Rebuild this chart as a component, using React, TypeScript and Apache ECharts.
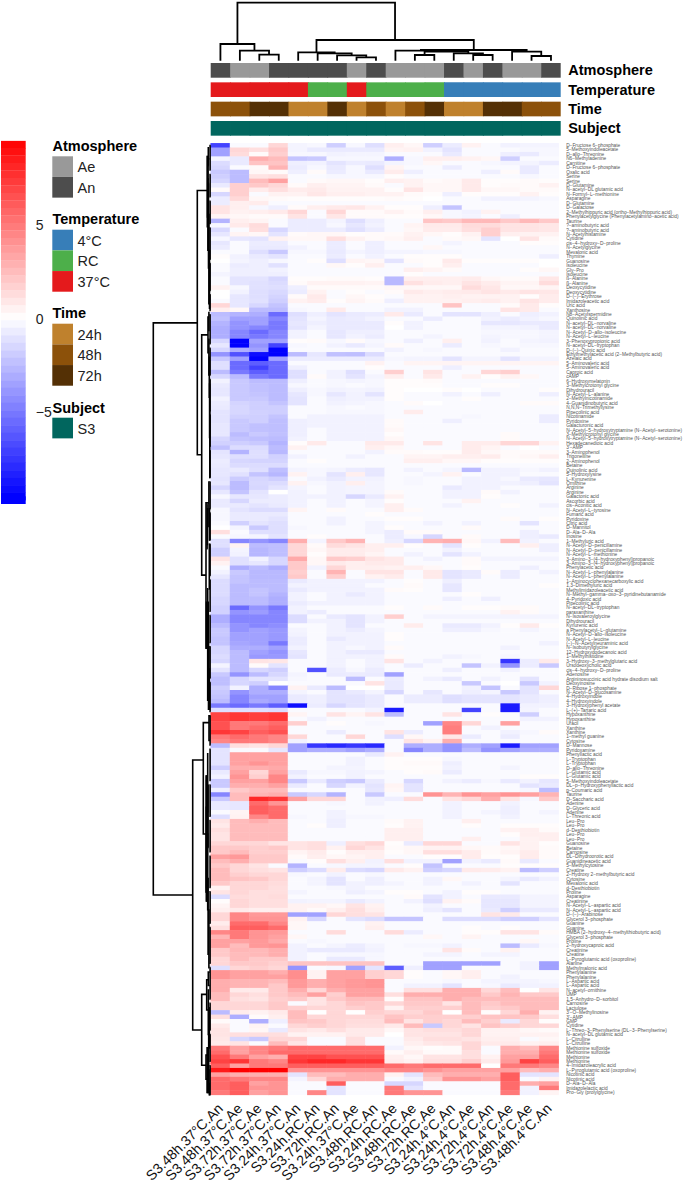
import React, { useEffect, useRef } from "react";
import * as echarts from "echarts";

const FONT = "Liberation Sans";

const sampleLabels = ["S3.48h.37°C.An","S3.48h.37°C.Ae","S3.72h.37°C.Ae","S3.72h.37°C.An","S3.24h.37°C.An","S3.24h.RC.An","S3.72h.RC.An","S3.24h.37°C.Ae","S3.48h.RC.An","S3.24h.RC.Ae","S3.48h.RC.Ae","S3.72h.RC.Ae","S3.24h.4°C.An","S3.24h.4°C.Ae","S3.72h.4°C.An","S3.72h.4°C.Ae","S3.48h.4°C.Ae","S3.48h.4°C.An"];
const annotationNames = ["Atmosphere","Temperature","Time","Subject"];
const atmosphereValues = ["An","Ae","Ae","An","An","An","An","Ae","An","Ae","Ae","Ae","An","Ae","An","Ae","Ae","An"];
const temperatureValues = ["37°C","37°C","37°C","37°C","37°C","RC","RC","37°C","RC","RC","RC","RC","4°C","4°C","4°C","4°C","4°C","4°C"];
const timeValues = ["48h","48h","72h","72h","24h","24h","72h","24h","48h","24h","48h","72h","24h","24h","72h","72h","48h","48h"];
const subjectValues = ["S3","S3","S3","S3","S3","S3","S3","S3","S3","S3","S3","S3","S3","S3","S3","S3","S3","S3"];
const annotationColors: Record<string,string> = { Ae:"#999999", An:"#4d4d4d", "4°C":"#377eb8", RC:"#4daf4a", "37°C":"#e41a1c", "24h":"#bf812d", "48h":"#8c510a", "72h":"#543005", S3:"#01665e" };
const legendGroups: [string, string[]][] = [["Atmosphere",["Ae","An"]],["Temperature",["4°C","RC","37°C"]],["Time",["24h","48h","72h"]],["Subject",["S3"]]];

const rowLabels = [
"D−Fructose 6−phosphate","5−Methoxyindoleacetate","D−allo−Threonine","N6−Methyladenine","Carnitine","D−Fructose 6−phosphate","Oxalic acid","Serine","Serine","D−Glutamine","N−acetyl−DL glutamic acid","N−Formyl−L−methionine","Asparagine","D−Glutamine","D−Galactose","2−Methylhippuric acid (ortho−Methylhippuric acid)","Phenylacetylglycine (Phenylacetylamino−acetic acid)","Taurine","?−aminobutyric acid","?−aminobutyric acid","N−Acetylhistamine","Cytidine","cis−4−hydroxy−D−proline","N−Acetylglycine","Mevalonic acid","Thymine","Guanosine","Isoleucine","Gly−Pro","Isoleucine","ß−Alanine","ß−Alanine","Deoxycytidine","Deoxycytidine","D−(−)−Erythrose","Imidazoleacetic acid","Uric acid","Xanthosine",
"N8−Acetylspermidine","Quinolinic acid","N−acetyl−DL−norvaline","N−acetyl−DL−norvaline","N−Acetyl−D−allo−isoleucine","N−Acetyl−L−leucine","3−Phenoxypropionic acid","N−acetyl−DL−tryptophan","D−(−)−Quinic acid","Ethylmethylacetic acid (2−Methylbutyric acid)","Azelaic acid","5−Aminovaleric acid","5−Aminovaleric acid","Caproic acid","cAMP","6−Hydroxymelatonin","3−Methylcrotonyl glycine","Dihydrouracil","N−Acetyl−L−alanine","2−Methylnicotinamide","4−Guanidinobutyric acid","N,N,N−Trimethyllysine","Pipecolinic acid","Nicotinamide","Pyridoxine","Galacturonic acid","N−Acetyl−5−hydroxytryptamine (N−Acetyl−serotonine)","3−Methylcrotonyl glycine","N−Acetyl−5−hydroxytryptamine (N−Acetyl−serotonine)","Hexadecanedioic acid","3'−AMP","3−Aminophenol","Trigonelline","2−Aminophenol","Betaine","Quinolinic acid","5−Hydroxylysine","L−Kynurenine",
"Ornithine","Arginine","Arginine","Galactonic acid","Ascorbic acid","cis−Aconitic acid","N−Acetyl−L−tyrosine","Fumaric acid","Pyridoxine","Citric acid","D−Mannitol","D−Ala−D−Ala","Inosine","1−Methyluric acid","N−Acetyl−D−penicillamine","N−Acetyl−D−penicillamine","N−Acetyl−L−methionine","3−Amino−3−(4−hydroxyphenyl)propanoic","3−Amino−3−(4−hydroxyphenyl)propanoic","Phenylacetic acid","N−Acetyl−L−phenylalanine","N−Acetyl−L−phenylalanine","1−Aminocyclohexanecarboxylic acid","1,3−Dimethyluric acid","Methylimidazoleacetic acid","N−Methyl−gamma−oxo−3−pyridinebutanamide","4−Pyridoxic acid","Pipecolinic acid","N−acetyl−DL−tryptophan","paraxanthine","N−Isovaleroylglycine","Dihydrouracil","Kynurenic acid","a Phenylacetyl−L−glutamine","N−Acetyl−D−allo−isoleucine","N−Acetyl−L−leucine","(−)−N−Acetylneuraminic acid","N−Isobutyrylglycine","12−Hydroxydodecanoic acid","1−Methylhistidine","3−Hydroxy−3−methylglutaric acid","Ursodeoxycholic acid","cis−4−hydroxy−D−proline","Adenosine","Argininosuccinic acid hydrate disodium salt","Deoxyinosine","D−Ribose 1−phosphate","N−Acetyl−D−glucosamine","4−Hydroxyindole","4−Hydroxyindole","3−Hydroxyphenyl acetate","L−(+)−Tartaric acid",
"Hypoxanthine","Hypoxanthine","Uracil","Xanthine","Xanthine","1−methyl guanine","Cytosine","D−Mannose","Pyridoxamine","Phenyllactic acid","L−Tryptophan","L−Tryptophan","D−allo−Threonine","L−Glutamic acid","L−Glutamic acid","5−Methoxyindoleacetate","DL−p−Hydroxyphenyllactic acid","p−Coumaric acid","Taurine","D−Saccharic acid","Adenine","D−Glyceric acid","Adenine","L−Threonic acid","Leu−Pro","Leu−Pro","d−Desthiobiotin","Leu−Pro","Leu−Pro","Guanosine","Betaine","Carnosine","DL−Dihydroorotic acid","Guanidineacetic acid","5−Methylcytosine","Creatine","2−Hydroxy 2−methylbutyric acid","Cytosine","Mevalonic acid","d−Desthiobiotin","Proline","Asparagine","Creatinine","N−Acetyl−L−aspartic acid","N−Acetyl−L−aspartic acid","D−(−)−Arabinose","Glycerol 3−phosphate","Guanine","Guanine","HMBA (2−hydroxy−4−methylthiobutyric acid)","Glycerol 3−phosphate","Proline","2−hydroxycaproic acid","Creatinine","Creatine","L−Pyroglutamic acid (oxoproline)","Alanine","Methylmalonic acid",
"Phenylalanine","Phenylalanine","L−Aspartic acid","L−Aspartic acid","N−acetyl−ornithine","UMP","1,5−Anhydro−D−sorbitol","Carnosine","Lactulose","3'−O−Methylinosine","3'−AMP","GMP","Cytidine","L−Threo−3−Phenylserine (DL−3−Phenylserine)","N−acetyl−DL glutamic acid","L−Citrulline","L−Citrulline","Methionine sulfoxide","Methionine sulfoxide","Methionine","Methionine","4−Imidazoleacrylic acid","L−Pyroglutamic acid (oxoproline)","Nicotinic acid","Nicotinic acid","D−Ala−D−Ala","Imidazolelactic acid","Pro−Gly (prolylglycine)"];

const valuesPale = [
[-7,-0.2,-0.2,1.5,-0.4,-0.3,-1.8,-0.3,-1.2,0.6,0.3,-1.8,-0.7,0.5,-0.2,-0.5,-0.4,-0.4],
[-3.5,1.5,1.2,2,-0.4,-0.8,-0.8,-0.8,-0.8,0.4,0.5,-0.5,-1,-0.2,-0.2,-0.2,-0.3,-0.3],
[-3.5,1.3,0.2,1.8,-0.3,-0.3,-0.5,-0.4,-0.4,-0.2,-0.2,-0.2,-0.8,-0.2,-0.2,-0.6,-0.8,-0.3],
[-0.4,-0.8,3,2.5,-2.2,-2,-0.3,-0.3,-0.3,-3,-0.3,0.6,0.6,0.5,0.3,-1.8,-0.2,-0.2],
[-1.3,-0.8,2.2,2.2,-0.6,-0.5,-1,-0.7,-0.8,-0.4,-0.3,0.3,-0.2,-0.2,-0.3,-0.4,-0.4,-0.7],
[-1.5,-0.2,0.2,2.8,-0.7,-0.3,-0.8,-0.3,-1.2,0.4,-0.2,-0.2,-0.7,-0.2,-0.2,-0.2,-0.8,-0.2],
[-2,-2.5,0.3,0.2,-0.6,0.2,-0.7,-0.3,-0.8,0.7,-0.6,-0.2,-0.2,-0.2,-0.6,0.2,-0.8,-0.2],
[-1.8,-2.5,1,1.2,-0.2,-0.2,-0.3,-0.3,-0.3,0.1,-0.2,-0.2,-0.2,-0.2,-0.2,-0.2,-0.3,-0.2],
[-1.5,-2.5,2.5,3.5,-0.2,0.2,0.3,0.3,0.1,0.6,0.5,0.2,0.3,0.8,0.1,0.1,0.2,0.1],
[-0.8,1.8,2,1.5,0.2,0.6,0.4,0.4,0.2,-0.2,0.5,0.3,0.3,0.8,0.1,0.2,0.2,0.5],
[0.2,1.8,0.7,1.2,0.7,0.8,0.5,0.5,0.5,0.1,1,0.3,0.3,0.8,0.3,0.3,0.2,0.2],
[-1.5,1.8,-0.2,0.5,0.5,0.9,0.6,0.6,0.5,0.5,0.2,0.1,-0.6,0.1,0.1,0.1,0.5,0.1],
[-0.7,1.4,0.3,0.2,0.1,0.1,0.1,0.1,0.1,0.2,0.1,0,-0.2,-0.2,-0.5,-0.5,-0.4,-0.3],
[-0.7,0.6,0.7,-0.2,-0.2,-0.2,-0.2,-0.2,-0.2,-0.2,-0.2,-0.2,-0.2,-0.2,-0.2,-0.2,-0.2,-0.2],
[1,0.6,-0.3,-0.6,0.2,0.6,0.8,0.9,0.5,0.1,0.1,-0.6,-2.2,-0.2,-0.2,-0.2,-0.2,-0.2],
[1,0.5,0.6,0.8,1.5,-0.2,1.5,0.2,0.2,0.5,0.2,0.6,-0.3,-0.5,0.5,-0.2,-0.2,-0.2],
[0.4,0.3,0.2,0.2,1,-0.2,0.9,0.2,0.2,0.1,0.1,0.3,-0.3,-0.4,-0.2,-0.6,-0.2,-0.2],
[-2.8,0.6,0.4,-0.2,-0.7,-0.7,-0.4,-1.2,-0.6,-0.2,-0.2,2.2,2,2.6,2.6,2,2.6,2],
[-0.3,0.8,1.3,-0.2,-0.7,-0.7,-0.3,-0.9,-0.5,-0.2,0.4,0.8,0.8,1.3,1.3,1,1,0.9],
[-1.4,-0.2,1.2,-1.5,-0.7,-0.7,-0.7,-1.1,-0.7,-0.2,0.3,0.7,0.7,1.2,1.8,1,1,0.9],
[-0.9,0.4,0.3,-1,0.2,0.3,0.3,0.1,0.2,0.2,0.5,0.3,0.1,0.5,1.8,0.6,0.5,0.5],
[-0.3,-0.9,-1,0.5,0.3,0.3,1.2,0.5,0.2,0.3,0.6,-0.2,0.2,0.3,-1,0,1,0.2],
[-0.9,-0.2,-0.7,-0.7,-0.2,-0.2,-0.7,-0.2,-0.6,-0.2,-0.2,-0.2,-0.4,-0.2,-0.2,-0.2,0.1,0.1],
[-0.7,-0.2,-0.8,-0.8,-0.5,-0.2,-0.7,-0.2,-0.6,-0.2,-0.2,0.3,-0.2,-0.2,-0.2,-0.2,-0.2,-0.2],
[-0.2,-0.2,-1.2,-2,-0.3,-0.3,-0.8,-0.4,-0.6,-0.4,-0.4,-0.3,-0.3,-0.2,-0.2,-0.2,-0.2,-0.2],
[0.1,-0.5,-0.8,-1,-0.2,-0.2,-0.7,-0.2,-0.5,-0.2,0.1,0.1,0.1,-0.2,-0.2,-0.2,-0.2,-0.6],
[0,-0.4,-0.6,-0.3,-0.2,0.1,-1.2,0.4,0.3,-1,0.2,0.1,0.8,0.1,0.1,0.1,0.1,0],
[-0.2,-0.7,-0.6,-1.1,-0.2,-0.2,0.3,0.1,0.6,-0.2,-0.2,0.1,0.6,-0.2,-0.2,-0.2,-0.2,0],
[-0.2,-0.6,-0.6,-0.5,-0.2,-0.2,-0.2,-0.2,-0.2,-0.2,0.6,0.4,0.2,-0.2,-0.2,-0.2,0.1,0.3],
[-0.4,-0.6,-0.6,-0.6,-0.2,-0.2,-0.2,-0.2,-0.2,-0.2,0.1,-0.2,-0.2,-0.2,-0.2,-0.2,-0.2,-0.2],
[-0.2,-1,-1,-1.5,0.1,0.1,0.2,0.2,0.1,-2.6,0.6,0.6,0.6,0.7,0.3,0.2,0.2,0.9],
[-0.2,-1,-1.1,-1.3,0.2,0.5,0.5,0.5,0.4,-2.6,1.1,0.7,0.6,1,0.7,0.4,0.4,1.3],
[0.5,-0.3,-1.1,-1.2,-0.6,0.2,0.2,0.2,0.2,0.3,0.3,0.3,0.3,1.3,0.9,0.3,0.3,0.4],
[0,-0.5,-1.2,-1.4,-0.7,0.5,-0.2,0.1,-0.2,0.2,0.8,0.6,0.7,0.8,1,0.8,1,0.9],
[0,-0.9,-1.2,-1.6,0.2,0.8,-0.2,0.3,0.1,-0.2,0.5,0.5,0.6,0.5,0.5,0.5,0.1,0.7],
[-0.2,-0.9,-1.1,-1.8,0.5,0.7,0.1,0.4,0.2,-0.6,0.5,0.5,0.5,0.6,0.7,0.5,1,0.7],
[1.5,-0.9,-1.5,-2.2,-0.2,-0.2,-0.2,-0.2,-0.2,-0.2,-0.2,-0.2,2.2,-0.2,-0.2,0.2,0.8,0.1],
[0.6,0.3,-2.5,-2.5,-0.3,-0.2,0.8,-0.2,-0.2,-0.5,-0.5,-0.2,-0.2,-0.2,-0.2,1,0.8,-0.2],
];

const valuesBlueTop = [
[-2.5,-2.8,-3,-5.5,-1.2,-0.6,-1,-0.8,-0.7,0.8,-0.8,-0.2,-1,-1,-0.6,-0.2,-0.6,-0.5],
[-2.3,-3.5,-3.5,-4.5,-1,-0.4,-0.8,-0.7,-0.5,-0.2,-0.2,-0.7,-0.2,-0.2,-0.5,-0.7,-0.5,-0.3],
[-2.8,-4,-3.5,-5,-0.9,-0.6,-0.8,-0.8,-0.8,0.1,-0.5,-0.2,-0.2,-0.2,-0.9,-0.9,-0.8,-0.8],
[-3,-4,-4.5,-5,-1,-0.4,-0.8,-0.8,-0.8,0,-0.5,-0.2,-0.2,-0.2,-0.4,-0.4,-0.5,-0.8],
[-3,-4.5,-5.5,-4.5,-0.5,-0.2,-0.9,-0.6,-0.6,-0.2,-0.2,-0.2,-0.2,-0.2,-0.3,-0.3,-0.3,-0.4],
[-3,-4.5,-5,-4.5,-0.5,-0.2,-0.9,-0.5,-0.7,-0.2,-0.2,-0.4,-0.2,-0.2,-0.4,-0.3,-0.3,-0.4],
[-1.5,-9.5,-3.5,-3.5,0.1,0.2,-0.3,0.2,-0.3,-0.2,-0.6,-0.2,0.6,-0.2,-0.5,-0.2,-0.4,-0.5],
[-0.9,-9.5,-4,-7,-0.3,-0.2,-0.5,-0.8,-0.4,0.2,-0.2,-0.2,-0.7,-0.2,-0.3,-0.2,-0.3,-0.3],
[-1.5,-3,-3.5,-9.5,-0.2,-0.2,-0.2,-0.2,-0.2,-0.5,-0.2,-0.3,-0.2,-0.2,-0.2,-0.5,-0.2,-0.2],
[-4,-6.5,-9,-9.5,-2.5,-0.9,-2.3,-2.4,-1.3,-0.2,-0.2,-0.2,-0.2,-0.2,-0.2,-0.2,-0.2,-0.2],
[-2,-3.5,-9.5,-3.5,-0.7,-0.7,-0.7,-0.7,-0.7,-0.3,-0.4,-0.4,-1,-0.4,-0.4,-1,-0.4,-0.4],
[-1.2,-5.5,-6,-5.5,-0.2,-0.2,-0.2,-0.2,0.5,-0.2,0.4,0.4,0.4,0.4,0.4,0.4,0.4,0.4],
[-1.2,-5.5,-7,-5.5,-0.6,-0.2,-0.2,-0.2,0.1,-0.2,-0.2,-0.2,-0.6,-0.2,-0.2,-0.2,-0.2,-0.2],
[-2.5,-5,-6,-5.5,-1.2,-0.2,-0.5,-1.2,-0.2,1.8,-0.2,1,-0.2,-0.2,1.5,1.8,-0.2,-0.2],
[-1.5,-2.5,-5,-5.5,-1.2,0.2,-0.5,-1,-0.4,0.6,-0.2,0.8,-0.2,0.5,0.1,0.5,0.3,-0.2],
[-0.5,-2,-2.5,-2.5,-0.6,-0.2,-0.3,-0.4,-0.3,0.1,0.1,0.2,-0.2,-0.2,-0.2,-0.2,-0.2,-0.2],
[-0.8,-2,-2.3,-2.5,-0.3,-0.2,-0.3,-0.2,-0.3,0.1,0.1,0.1,-0.2,-0.2,0.1,0.1,-0.2,-0.2],
[-0.9,-2,-2.3,-2.5,-0.6,-0.3,-0.5,-0.4,-0.5,0.1,0,0,0.1,0,-0.2,-0.2,-0.2,0.1],
[-0.9,-2,-2.2,-2.5,-0.9,-0.3,-0.9,-0.5,-1,0.1,-0.2,-0.2,-0.5,-0.2,-0.6,-0.2,-0.2,-0.6],
[-0.5,-2,-2,-2.5,-1,-0.2,-0.6,-0.5,-0.5,0.1,-0.2,-0.2,-0.2,0.1,-0.2,-0.2,-0.2,-0.2],
[-0.7,-1.6,-1.8,-2.2,-1,-0.2,-0.5,-0.4,-0.3,-0.2,0.2,0,-0.2,-0.2,-0.2,-0.2,0.2,0.2],
[-0.8,-1.5,-1.8,-1.8,-0.2,-0.2,-0.3,-0.2,-0.3,-0.2,-0.2,-0.2,-0.2,-0.2,-0.2,-0.2,-0.2,-0.2],
[-1,-1.5,-1.7,-1.8,-0.2,-0.2,-0.3,-0.3,-0.3,-0.2,0.7,-0.2,-0.2,-0.2,-0.2,-0.2,-0.2,-0.2],
[-1,-1.7,-1.8,-2.2,-0.2,-0.5,-0.5,-0.5,-0.5,-0.2,-0.2,-0.2,-0.2,-0.3,-0.2,-0.2,-0.2,-0.7],
[-1,-2,-1.8,-2.4,-0.6,-0.5,-0.5,-0.5,-0.5,0.2,-0.2,-0.2,-0.6,-0.2,-0.2,-0.2,-0.2,-0.7],
[-0.9,-2,-2.3,-2.4,-0.6,-0.5,-0.5,-0.5,-0.5,0.2,-0.2,-0.2,-0.2,-0.2,-0.2,-0.2,-0.2,-0.2],
[-0.9,-2,-2.3,-2.4,-0.6,-0.2,-0.5,-0.5,-0.5,0.3,-0.2,-0.2,-0.2,-0.2,-0.2,-0.2,-0.2,-0.2],
[-0.9,-2.5,-2,-2.3,-0.6,-0.2,-0.5,-0.5,-0.5,0.1,-0.2,-0.2,-0.2,-0.2,-0.2,0.2,-0.2,-0.2],
[-1.5,-2.2,-2.4,-2.5,-0.5,-0.2,-0.5,-0.5,-0.5,0.3,-0.2,-0.2,-0.2,-0.2,-0.2,0.2,-0.2,-0.2],
[-1.7,-1.8,-2,-2.8,0.1,0.8,-0.2,-0.2,0.8,0.8,-0.2,1,-0.2,0.7,0.7,1.5,1.5,0.5],
[-2.3,-1.3,-1.3,-2.5,0.5,-0.2,-0.2,-0.2,0.6,0.3,-0.2,-0.2,-0.2,0.7,0.4,-0.2,0,-0.2],
[-1,-2.8,-1.2,-2.6,-0.2,-0.2,-0.2,-0.2,-0.5,0.2,0.2,0.1,0.1,0.7,0.3,0.2,0.2,0.2],
[-0.9,-1.2,-1.2,-1.7,-0.5,-0.2,-0.2,-0.5,-0.2,-0.2,0.4,0.4,0.6,0.6,0.7,0.2,0.3,0.6],
[-0.7,-1.5,-1.6,-1.6,-0.2,0.1,-0.2,-0.2,-0.2,-0.2,0.6,0.6,0.3,0.3,0.1,0.1,0.1,0.1],
[-0.8,-1.3,-1.3,-1.3,-0.2,-0.2,-0.2,-0.2,-0.2,-0.2,-0.2,-0.2,-0.2,-0.2,-0.2,-0.2,-0.2,-0.2],
[-0.9,-0.8,-1.2,-2.4,-0.4,-0.3,-0.4,-0.7,-0.9,-0.2,-0.5,-0.2,-0.4,-2.6,-0.5,-0.5,-0.3,-0.5],
[-0.9,-1.1,-2.2,-2.7,0.5,-0.3,-1,0.6,-0.9,-0.2,-0.2,-0.4,0.5,-0.2,-0.5,-0.5,-0.2,-0.2],
[-1,-1.9,-1.5,-1.8,-0.2,-0.5,-0.8,-0.5,-0.5,-0.2,-0.3,-0.2,-0.2,-0.5,-0.5,-0.3,-0.8,-0.9],
];

const valuesBlueLower = [
[-0.9,-2.5,-1.4,-1.3,0.5,-0.3,-0.5,0.6,-0.4,-0.2,-0.3,-0.2,-0.2,-0.5,-0.5,-0.5,-0.6,-1],
[-1.5,-2.5,-1.5,-1,-0.4,-0.2,-0.5,-0.4,-0.4,-0.2,-0.2,-0.2,-0.8,-0.5,-0.5,-0.2,-0.2,-0.2],
[-0.9,-2.2,-1,0,-0.5,-0.2,-0.5,-0.4,-0.4,0.2,-0.2,-0.2,-0.5,-0.5,0.2,-0.5,-0.2,-0.2],
[-0.3,-0.9,-0.9,-0.7,-0.5,-0.5,-0.5,-1.5,-0.8,0.5,-0.2,-0.2,-0.5,-0.5,0.1,-0.2,-0.2,-0.2],
[-0.8,-1.5,-0.7,-0.7,-0.5,-0.2,-0.5,-0.2,-0.4,0.1,-0.2,-0.2,-0.2,0.5,-0.2,-0.2,-0.2,-0.2],
[-0.8,-0.8,-1,-0.8,-0.5,-0.2,-0.5,-0.2,-0.4,0.6,-0.2,-0.2,-0.5,-0.2,-0.2,0.1,-0.2,-0.5],
[-0.3,-1,-1.3,-1.3,0.4,-0.2,0.2,-0.2,-0.2,0.6,0.2,-0.2,-0.2,-0.2,-0.2,-0.2,-0.2,-0.2],
[-0.3,-0.8,-0.8,-0.8,-0.2,-0.2,-0.2,-0.2,0.1,-0.2,-0.2,-0.2,-0.2,-0.2,-0.2,-0.2,-0.2,-0.2],
[-0.3,-0.8,-0.8,-1,-0.2,-0.2,-0.5,-0.2,-0.2,0.1,0.1,-0.2,-0.2,-0.2,-0.2,0.2,-0.2,0.1],
[-0.2,-1.7,-1,-1.2,-0.2,-0.2,-0.5,-0.2,-0.4,-0.2,-0.2,-0.5,-0.2,-0.5,-0.2,-0.2,-1,-0.2],
[0,-0.4,-2,-1.2,-0.3,-0.2,-0.2,-0.2,-0.4,0.1,-0.2,-0.2,-0.2,0.2,-0.2,-0.2,-0.2,-0.2],
[1.2,-0.2,-1.2,-1.2,-0.2,-0.2,-0.2,-0.2,-0.4,-0.7,0.2,0.2,-0.2,-0.2,-0.2,-0.2,-0.6,-0.2],
[-0.2,-0.3,-0.4,-1,-0.2,0.1,-0.2,-0.2,-0.2,-0.7,-0.3,-1.5,-0.2,0.2,-0.2,-0.2,-0.6,-0.8],
[-1.2,-4.5,-4,-4.5,3,-0.4,2,2.8,-0.2,-0.6,-1.5,2.8,3,0.3,-0.5,2.5,-0.5,-0.2],
[-1.2,0.5,-2.5,-2.4,1.5,0.2,1.3,1,0.6,0.6,0.1,-0.2,-1,0.1,-0.2,-0.2,0.6,-0.6],
[-1.8,-0.4,-2.7,-2.4,1.5,0.3,0.7,0.7,0.6,-0.2,-0.2,-0.2,-0.5,-0.2,-0.2,-0.2,-0.2,-0.6],
[-1.8,-0.5,-2.7,-2.4,1.5,0.1,0.7,0.7,0.4,-0.2,-0.5,-0.2,-1,-0.5,-0.2,-0.2,-0.2,-0.2],
[1,-1.1,-0.5,-1.5,3.2,0.3,2,1.8,1,0.8,-0.2,-0.5,-0.2,0.2,-0.4,-0.4,-0.4,-0.4],
[0.5,-1.1,-0.9,-1.5,2,0.3,0.8,0.6,0.8,0.8,-0.2,-0.2,-0.2,0.2,-0.2,-0.2,-0.2,-0.2],
[-0.2,-3,-2.5,-3,2,-0.5,1.5,0.6,0.6,0.5,0.6,0.3,-0.2,0.1,-0.2,-0.2,-0.6,-0.2],
[-0.5,-2,-2.6,-2.6,1.8,-0.2,2.8,-0.2,1,1,-0.2,0.8,-1,-0.8,0.2,-0.7,-0.2,-0.5],
[-0.9,-2.2,-2.6,-2.6,2,-0.2,1.8,-0.2,0.5,0.7,-0.2,0.8,-1,-0.8,-0.2,-0.7,-0.2,-0.2],
[-1.3,-2.2,-2.5,-2.5,-0.8,-0.5,-0.5,-0.5,-0.5,-0.2,0.1,-0.2,-0.6,-0.2,-0.2,-0.2,-0.2,-0.2],
[-1.3,-2.5,-2.5,-2.5,-0.5,-0.5,-0.5,-0.5,-0.2,-0.2,0.2,-0.2,-0.9,-0.2,-0.2,-0.2,-0.2,0.1],
[-1.3,-2.5,-2.2,-2.5,-0.8,-0.5,-0.5,-0.5,-0.5,0.2,0.1,-0.2,-0.9,-0.2,-0.2,-0.2,-0.2,-0.2],
[-1.3,-2.5,-2.2,-2.8,-0.5,-0.2,-0.5,-0.8,-0.5,-0.2,-0.2,-0.2,-0.2,0.1,-0.2,-0.2,-0.2,-0.2],
[-1.5,-2.5,-2.5,-3,-0.5,-0.2,-0.5,-0.5,-0.5,-0.2,-0.2,-0.2,-0.6,-0.2,-0.6,-0.2,-0.2,-0.2],
[-1.5,-2.5,-2.5,-3,-0.7,-0.5,-0.5,-0.5,-0.5,-0.2,-0.2,-0.2,-0.2,-0.2,-0.2,-0.2,-0.2,-0.2],
[-1.7,-5.5,-4,-5,-0.5,-0.2,-0.2,-0.2,-0.2,0.1,-0.2,0.2,-0.2,0.1,0.1,0.2,0.2,-0.2],
[-1.7,-4,-3.7,-4.5,-0.5,-0.7,-0.2,-0.2,-0.2,-0.2,-0.2,-0.2,-0.2,-0.2,-0.2,0.5,0.2,-0.2],
[-3,-4.5,-4.5,-4.5,-1.3,-0.2,-0.8,-1,-0.5,1.8,-0.2,-0.4,-0.4,-0.4,-0.4,-0.4,-0.4,-0.4],
[-3,-4.5,-4.5,-4.5,-1.3,-0.5,-0.5,-1,-0.5,-0.2,-0.2,-0.2,-0.2,-0.2,-0.2,-0.2,-0.2,-0.2],
[-2.5,-4,-4.5,-4.2,-0.2,-0.2,-0.5,-1,-0.2,-0.2,0.7,-0.2,-0.8,-0.8,-0.5,0.1,0.8,0.1],
[-2,-4,-3.5,-3.8,-0.4,-0.2,-0.5,-0.7,-0.4,-0.2,-0.2,-0.2,-0.6,-0.6,-0.3,-0.2,-0.4,-0.2],
[-2,-3.5,-3.5,-3.8,-0.5,-0.2,-0.5,-0.5,-0.5,0.1,-0.2,-0.2,-0.2,-0.2,-0.2,-0.2,-0.2,-0.2],
[-2.2,-3.5,-3.5,-3.8,-0.7,-0.2,-0.8,-0.5,-0.5,0.1,-0.2,-0.2,-0.2,-0.2,-0.2,-0.2,-0.2,-0.2],
[-2.2,-3.3,-3.5,-5,-0.7,-0.2,-0.5,-0.5,-0.5,-0.2,-0.2,-0.2,-0.2,-0.2,-0.2,-0.2,-0.2,-0.5],
[-1.5,-3,-3,-3.5,-0.5,-0.2,-0.5,-0.3,-0.5,0.2,-0.2,-0.2,-0.2,-0.2,-0.2,-0.5,-0.2,-0.2],
[-1.5,-2.5,-3.5,-4,-0.9,-0.2,-0.5,-0.8,-0.8,-0.2,-0.2,-0.2,-0.2,-0.2,-0.2,-0.2,-0.2,-0.2],
[-1.3,-2.5,-3.8,-3.8,-1,-0.2,-0.5,-0.5,-0.5,0.2,-0.2,-0.2,-0.5,-0.3,-0.2,-0.3,-0.2,-0.2],
[-1.5,-2.5,1,0.9,-0.2,-0.2,-0.5,-0.2,-0.5,1,-0.2,-0.5,-0.2,-0.2,-0.2,-7.5,-0.7,0.8],
[-0.4,-2.5,0.2,-1,-0.2,-0.2,-0.5,-0.2,-0.5,-0.2,-0.7,-0.2,-0.2,-2.2,-0.5,-4,-0.7,-2],
[-1,-2.5,-1.5,-1.8,-0.2,-6.5,-0.7,-0.3,-0.7,-0.2,-0.2,-0.2,-0.6,-0.2,-0.2,-0.5,-0.2,-0.2],
[-2,-4,-2.5,-1.5,-0.4,-0.2,-0.8,-0.7,-0.8,-3.5,-0.2,-0.2,-0.2,-0.2,-0.2,-0.2,-0.2,-0.2],
[-2.4,-1.5,-1,-1,-0.3,-0.2,-0.2,-2.5,-0.2,-0.7,-0.2,-0.5,-0.8,-0.2,-0.5,-0.2,-1,-0.2],
[-2.4,-1.5,-1.8,0,-0.2,-0.2,-0.2,-0.2,1,-0.8,-0.2,-0.2,-0.2,-2,-0.2,0,-2,-0.5],
[-1.8,-0.5,-3,-4.5,0.5,-0.8,-2.5,0,0,-0.8,-0.2,-0.2,-0.2,-0.5,-2.2,-0.2,-1,1.5],
[-2,-4,-3,-3,-0.4,-0.2,-1,-0.8,-0.4,-1.5,-0.2,-0.9,-0.2,-0.6,-0.4,-2,-1,-0.2],
[-2.2,-4.5,-3.5,-3.5,-0.8,-0.6,-1,-1,-0.8,-0.2,-0.7,-0.7,-1.2,-1,-1,-1,-0.8,-0.6],
[-2.5,-4.5,-3.2,-3.5,-0.8,-0.6,-1,-1,-0.8,-0.2,-0.7,-0.7,-1.2,-1,-1,-1,-0.8,-0.6],
[-5,-5.5,-5,-6,-9,-0.7,-1.5,-1,-0.8,-0.2,-0.2,-0.2,-0.2,-0.2,-0.2,-8.5,-0.5,-0.5],
[-1.2,-1.2,-1.2,-1.3,-0.2,-0.2,-0.2,-0.2,-0.4,-8.5,-0.2,-0.2,-0.2,-7,-0.2,-8.5,-0.4,-0.2],
];

const valuesRedLeft = [
[7,7.5,7.2,7.5,0.4,-0.2,1,0.4,1,-2.5,-0.2,-0.2,1,-0.2,0.1,-0.2,-1.8,-0.2],
[7,7.5,7.2,7.5,-0.2,-0.5,-0.2,-0.2,-0.2,-0.2,-0.2,-0.2,-0.2,-0.2,-0.2,-0.2,-0.5,-0.5],
[6.5,5,5,5.5,1.8,-0.2,0.1,-0.2,-0.3,-0.2,-0.2,-3.5,4.5,1.5,-0.2,3.5,-0.2,-0.2],
[6.5,5,5.5,6,-0.2,-0.2,-0.2,-0.2,-0.2,-0.2,-0.2,-0.2,4.8,-0.2,-0.5,-0.2,-0.2,-0.2],
[7.5,7,6,6.5,-0.2,-0.2,-0.7,-0.2,-0.2,1,-0.7,-0.2,4.8,-0.2,-0.2,-0.5,-0.3,0.2],
[5,5.5,5,4.5,1.5,-0.2,-0.2,1.5,-0.2,-1.2,0.3,-0.2,0.9,-0.7,-0.2,-0.7,-0.2,-0.2],
[4.5,5,5,4.5,-0.5,-0.2,-0.2,-0.2,-0.2,-0.2,1,0.5,3,-0.2,-0.2,-0.2,-0.2,-0.2],
[-2.5,1.2,1,1.5,-3.5,-7.5,-8,-7.5,-8,-0.2,-3,-3,-4,-3,-3.5,-8.5,-3.5,-3.5],
[-1,-0.2,-0.2,-0.9,-3.5,-3,-3,-3.5,-3,-0.2,-4.5,-3,-4,-2.5,-4,-3.5,-3,-3],
[-1,3.5,3.5,3.5,-0.2,-0.2,-0.2,-0.2,-0.8,0.5,-0.2,-0.2,-0.2,-0.2,-0.2,-0.2,-0.2,-0.2],
[-1,3.5,3.5,3.5,-0.2,-0.2,-0.2,-0.5,-0.2,0.1,0.1,0.1,-0.3,-0.2,-0.2,-0.2,-0.2,-0.2],
[-1,3.5,4,3.5,-0.2,-0.2,-0.2,-0.5,-0.2,0.1,0.2,0.2,-0.6,-0.2,-0.2,-0.2,-0.2,-0.2],
[-1.8,3,3,3.2,-0.2,-0.2,-0.4,-0.4,-0.2,0.1,0.1,0.1,-0.5,-0.2,-0.2,-0.4,-0.2,-0.2],
[-0.8,3.5,1.5,3.5,-0.8,-0.3,-0.3,-0.5,-0.4,-0.2,0.1,0.2,-0.7,-0.2,-0.2,-0.2,-0.2,-0.2],
[-0.5,4,1.8,4.5,-0.5,-0.2,-0.2,-0.5,-0.2,-0.2,-0.2,-0.2,-0.2,-0.2,-0.2,-0.2,0.1,0.1],
[-2,3.5,3.5,4.5,-2,-0.8,-1.8,-2,-0.8,-0.2,-1.5,-0.2,-0.5,-0.7,-0.3,-0.8,-0.5,-0.9],
[-2,3,3,3.5,-0.8,-0.2,-1.5,-0.5,-1,0.4,-1,-0.2,-0.2,-0.2,-0.2,-0.2,-1,-0.8],
[-0.6,2,2.5,2.5,-0.2,-0.2,-0.2,-0.2,-0.9,0.3,-1,-0.2,-0.2,-0.2,-0.2,-0.2,-0.3,-2.5],
[-4.5,2.5,2.8,3,-2,-1.5,-2.8,-0.2,-2,-0.2,-0.2,4,2.8,4,3.5,4,3.5,2.8],
[-2,2.5,8,7.5,3.5,1.5,1.5,-0.2,-0.5,-0.6,1.3,-0.2,1,1.5,3,1,-0.3,2],
[-0.8,-0.9,5.5,4,-0.2,-0.2,-0.3,-0.2,-0.5,-0.2,-0.2,-0.2,-0.5,-0.2,-0.2,-0.5,-0.2,-0.2],
[-0.8,-0.9,6,5.5,-0.2,-0.2,-0.2,-0.2,-0.2,-0.2,-0.2,-0.2,-0.5,-0.2,-0.2,-0.6,-0.2,-0.2],
[-0.2,0.4,6,5.5,-0.2,-0.2,-0.5,-0.2,-0.2,-0.2,-0.2,-0.2,-0.5,-0.2,-0.4,-0.6,-0.2,-0.4],
[-1.2,0.5,4.5,5.5,-0.3,-0.2,-0.5,-0.3,-0.3,-0.2,-0.2,-0.2,-0.5,-0.2,-0.2,-0.5,-0.2,-0.2],
[1,2.5,3,2.5,-0.2,-0.2,-0.6,-0.2,-0.2,0.2,0.5,-0.2,-0.2,0.6,-0.2,-0.2,-0.2,-0.2],
[0.8,2.5,2.5,2.5,-0.2,0.1,-0.6,-0.2,-0.2,0.1,0.5,-0.2,-0.2,0.1,-0.2,0.1,0.1,0.1],
[1.2,2.5,2.5,2.5,-0.2,-0.2,-0.2,-0.2,-0.2,0.6,0.6,-0.2,-0.2,-0.2,-0.2,0.5,0.6,0.2],
[1,2.5,2.5,2.5,-0.2,-0.2,-0.2,-0.2,-0.2,0.6,0.6,-0.2,-0.2,-0.2,-0.2,0.1,0.6,0.6],
[1,2.5,2.5,2.5,-0.2,-0.2,-0.2,-0.2,-0.2,0.6,0.6,-0.2,-0.2,0.6,-0.2,-0.2,0.5,0.6],
[1.5,1.5,1.5,1,1,1.2,-0.6,1.2,1.5,0.1,-0.8,1.5,1.5,-0.2,-0.2,1,0.5,0.1],
[2,2,1.8,2,1,1.2,0.5,1.5,1,0.2,0.3,0.5,0.5,0.3,0.2,0.3,0.5,0.2],
[2,2.5,1.8,1.8,0.4,0.7,0.1,0.6,0.6,0.1,0.3,1.2,1.2,0.7,0.2,0.4,0.7,0.2],
[3.5,3.8,2,2,0.2,0.6,0.3,0.4,0.6,-0.2,-0.2,0.1,0.1,0.7,0.1,0.1,0.7,0.2],
[2.5,3,2,2,-0.2,0.1,1.2,0.6,-0.5,1.2,-0.5,-0.5,-3.5,-0.5,-0.8,0.2,-0.8,-0.2],
[2,1.5,1,-0.2,-2.8,-0.2,-0.3,-0.4,-0.4,-0.2,0.1,-2.2,-0.2,-0.2,-0.2,0.1,0.1,0.1],
[2.5,1.5,1.2,1,-1.8,-1.3,0.7,-1.3,-1.5,0.8,0.5,-1.8,-1.5,0.8,0.7,0.5,-2.5,-1.8],
[2.5,1.8,1.5,1.5,-0.3,-0.2,-0.5,-0.2,-0.3,-0.2,-0.2,-0.2,-0.2,-0.2,-0.2,-0.2,-0.2,-0.2],
[2.5,2.2,2,1.5,-0.2,-0.4,-1,-0.2,-0.6,-0.2,-0.2,-0.5,0.3,-0.2,-0.2,-0.4,-0.8,-0.5],
[2,1.5,1.5,1.3,-0.2,-0.4,-1,-0.5,-0.6,-0.4,-0.2,-0.5,-0.2,-0.5,-0.2,-1,-0.2,-0.2],
[0.5,1.5,1.5,1.2,-0.2,-0.2,-0.3,-0.5,-0.2,-0.2,-0.2,-0.2,-0.2,-0.2,-0.2,-0.2,-0.2,-0.2],
[1,1.5,1.2,1.2,-0.4,-0.2,-0.2,-0.6,-0.4,0.1,0.1,-0.2,-0.5,0.1,0.1,-0.2,-0.2,-0.2],
[-1.3,1.3,1.2,1.3,-0.2,-0.2,-0.2,-0.2,-0.2,-0.2,0.2,-1,-0.5,-0.2,-0.8,-0.8,-0.4,-0.4],
[0.1,1.5,1.2,1.2,-0.5,-0.4,-0.4,-0.8,-0.5,-0.2,-0.5,-1.2,0.5,0.2,-0.9,-0.9,-0.4,-0.4],
[0.4,1.5,1.2,1.2,0.5,0.5,0.3,1,0.5,-0.2,-0.2,-0.5,-0.2,-0.2,-0.9,-0.9,-0.4,-0.4],
[0.6,0.8,0.6,0.6,0.5,0.2,0.6,1.2,0.6,-0.2,-0.2,-0.6,-1,-0.2,-0.8,-1.8,-0.8,-0.8],
[1.5,4.5,3.8,3.8,-3.5,-3.5,1.5,1.2,1,-0.2,-0.2,-0.2,-0.2,-0.2,1,0.8,-0.2,-0.2],
[1.5,4.5,4,4,0.5,-1.5,-0.2,-1,-1.3,-2.2,-2.2,-0.2,-1.3,-1.3,-1.3,-1.8,-1.8,-1],
[0.7,5.5,5.5,4.5,0.3,-0.2,-0.2,-0.2,0.5,-0.2,-0.2,-0.2,-0.2,-0.2,-0.2,-0.2,-0.2,-0.2],
[1.2,6,6,5.5,0.3,-0.2,-0.2,-0.2,0.6,-0.2,-0.2,-0.2,-0.2,0.1,-0.2,0.1,-0.2,-0.2],
[4.5,5,4,3.8,-0.2,-0.2,1.3,-0.2,-0.2,1.3,-0.7,-0.2,-0.2,0.1,0.1,1,1,0.2],
[2.8,5,4,3.5,0.3,-0.2,-0.2,-0.2,-0.2,-0.2,-0.2,0.3,-0.2,0.4,-0.2,-0.2,-0.2,-0.2],
[3.5,3.5,3.8,3.2,-0.2,-0.3,-0.2,-0.2,-0.2,-0.2,-0.2,-0.2,-0.2,-0.2,-0.2,-0.2,0.3,-0.2],
[3.5,2.5,3.8,4,-0.5,-0.2,-0.4,-0.7,-0.4,-0.2,-0.3,-0.3,-0.5,-0.2,-0.2,-2.5,-0.8,-0.3],
[2,2.7,2.6,3,-0.5,-0.8,-0.8,-0.8,-0.5,-0.2,-0.2,-0.2,1,0.2,-0.2,0.5,-0.2,-0.2],
[2,2.5,2.6,3,-0.5,-0.2,-0.3,-0.3,-0.3,-0.2,-0.2,-0.4,-0.4,-0.2,-0.4,-0.4,-0.2,-0.2],
[1.5,2.5,2,2,-0.5,-0.2,-0.8,-0.8,-0.3,-0.2,-0.2,-0.2,-0.2,-0.2,-0.2,-0.2,-0.2,-0.2],
[1.5,2,2,1.7,2.2,2.2,2.2,2.2,2.2,-0.2,-0.2,-3.5,-3.5,-3.5,-3.5,-0.2,-0.5,-3.5],
[-1.2,1.5,1.8,1.5,-4,-0.2,-0.3,-3.5,-1,-6,-0.6,-3.5,-3.5,-0.2,-0.2,-0.2,-0.5,-3.5],
];

const valuesWarm = [
[4,3.5,3.5,3,4.2,0.5,3.5,3.5,1.8,1.5,0.1,-0.2,0.3,0.6,-0.2,-0.2,-0.2,-0.2],
[4,3.5,3.5,3.5,4.2,0.5,3.5,3.5,1.8,1.5,0.1,-0.2,0.3,0.6,-0.2,-0.5,-0.2,-0.2],
[3,2.8,2.8,2.5,3.8,3,3.5,3.8,4,-0.2,-0.2,-0.2,-0.3,-0.2,-0.4,-0.4,-0.4,-0.3],
[3,2.8,2.8,2,3.8,3,3.5,3.8,4,-0.2,-0.5,-0.5,-1,-0.2,-0.3,-0.8,-0.5,-0.5],
[3,0.8,0.8,2,3,1.5,3,3.5,3.5,-0.2,1.2,1.2,3,3,1.5,2.5,0,1],
[2.5,1.5,1.2,2,2.5,3.5,1.8,3.5,3.5,1.2,3,3,3,3,2,2.8,2,2],
[2.5,1.2,1,1.8,2,1,2,2.5,2.5,0.1,2.2,2.2,3,2.5,2.5,2.5,2.5,2.5],
[1.5,1.5,1.5,2,-0.2,1,1.5,2.2,2,1.5,2,2,1,2.5,2,2.5,2.5,2.5],
[1.5,1.5,1.5,2,1.8,1.5,1.5,1.8,2,0.5,1.8,1.8,1.8,2.5,1.8,2,2.5,2.5],
[-2.5,0.7,0.5,0.8,2.5,0,1.5,0,1.8,1.5,1.5,2,0,2.5,0.1,1.5,3,0.5],
[1.2,-3,0.2,0.6,2.5,1.5,1.5,1.5,1.5,2.2,1.8,1.8,1.8,1.8,2.2,2.2,2,1.2],
[0.2,-0.2,-3,-0.6,2.2,2,1.5,1.3,1.3,2.5,1,1.8,1.5,2.5,1.8,-0.8,1.5,0.1],
[0.8,-0.2,0.4,-0.2,1.5,1.8,1.5,1.2,1.2,0.8,2.5,-2,1.5,1,2.2,1.8,1.5,1.5],
[1,-0.2,0.3,-0.8,1,0.8,1.2,0.8,0.8,0.3,1,1.2,1.2,1.5,0.5,0.5,0.3,0.2],
[1,1.2,1.2,1.2,0.5,0.5,0.5,0.8,0.8,0,1,1,1,1.5,0.5,0.5,0.5,0.5],
[0.9,-1.5,-2,1.5,1.5,-0.2,-0.2,1.2,-0.2,-0.2,0.8,1.2,1.2,1,0.6,0.6,-0.2,0.3],
[0.8,1,-0.2,2.5,1,-0.2,-0.2,1.2,-0.2,-0.2,0.6,0.9,1,1.5,0.8,0.8,0.5,0.6],
[5,3.5,4.5,5,5.5,5.5,5.5,5.5,5.5,-0.5,0.3,0.1,0.2,1.5,-0.2,3,2.5,4.5],
[5.5,3.5,4.5,5.5,5.5,5.5,5.5,5.5,5.5,0.2,0.6,0.2,0.2,1.2,-0.2,3,3,5],
[6.5,5,3.5,3,7,7,6.5,6.5,6.5,0.6,0.3,1,1,1.2,0.5,3.5,3.5,5.5],
[7,7.5,5,4.5,7.5,8,8,7.5,7.5,0.7,0.5,1.2,1.2,1.8,0.8,3.8,7,6],
[6,3.5,5,5,6,6,6,6,6,5.5,5,5.5,5.5,5.5,0,5,5,4.5],
[8.5,9.5,9.5,9.5,4,4,4,4,4,4.5,4.5,4,3.5,3.5,3.5,3.5,2.5,3],
[3.5,3,3,3,-1,2.5,2.5,3,3,0.5,-1,2.5,3,3,3,6,-1,-1],
[5.5,5,4.5,4.5,-0.4,1.5,3,3,3,-0.2,-0.5,2,4,4,3.5,6,-0.2,0.5],
[5.5,6,3.5,4,-0.2,-0.2,6,-0.2,-0.2,-1.5,-1.5,-0.2,-0.2,-0.2,-0.2,5.5,3,3.5],
[5.5,6,4,4,-0.2,-0.2,-1,-0.2,-0.2,5,-1,-0.2,-0.2,-0.2,-0.2,5.5,-0.5,5],
[5,6,3.5,4,-0.2,4.5,-1,-0.2,-0.2,5,4,4,-0.2,-0.2,-0.2,5,-0.5,0.4],
];

// colour-key steps, top to bottom
const colorKeySteps = [9.3,8.9,8.5,8.1,7.7,7.3,6.9,6.5,6.1,5.7,5.3,4.9,4.5,4.1,3.7,3.3,2.9,2.5,2.1,1.7,1.3,0.9,0.5,0.1,-0.3,-0.7,-1.1,-1.5,-1.9,-2.3,-2.7,-3.1,-3.5,-3.9,-4.3,-4.7,-5.1,-5.5,-5.9,-6.3,-6.7,-7.1,-7.5,-7.9,-8.3,-8.7,-9.1,-9.5,-9.7];
const colorKeyTicks = [5,0,-5];

// column tree merges: [left x, right x, left height, right height, merge height]
const colTreeLinks = [
[2.5,3.5,0,0,6],[1.5,3,0,6,10],[0.5,2.25,0,10,16.7],
[7.5,8.5,0,0,3.3],[6.5,8,0,3.3,5.3],[5.5,7.25,0,5.3,7.3],[4.5,6.375,0,7.3,8.3],
[10.5,11.5,0,0,5.7],[13.5,14.5,0,0,5.7],[12.5,14,0,5.7,7.3],[11,13.25,5.7,7.3,9],[9.5,12.125,0,9,10],
[16.5,17.5,0,0,4.7],[15.5,17,0,4.7,9],[10.81,16.25,10,9,10.7],
[5.44,13.53,8.3,10.7,20.7],[1.375,9.48,16.7,20.7,58],
];
// row tree merges: [top row, bottom row, top height, bottom height, merge height]
const rowTreeLinks = [
[40.3,168.7,13.4,18,57.4],[10.6,69.9,3.4,9,13.4],[138.4,199,7.4,9,18],
[3,18.7,2.4,2.8,3.4],[43,96.9,2.7,4.7,9],[130,155,1.7,4.2,7.4],[191,206.9,4,4.7,9],
[1,5,1.6,2,2.4],[3.5,8,1.4,1.8,2.8],[8,14,2.2,2.2,2.6],[12,24,2,2,2.8],[9,28,1.6,1.6,2.2],[16,36,1,1,1.8],[24,37,0.8,0.6,1.2],
[3,16.5,3,3,3.2],[4,15,2.7,2.7,2.9],
[39,47,1.8,1.8,2.7],[38,42,1,1,1.8],[44,52,1.2,1.4,1.8],[48,57,0.8,1,1.4],[54,66,0.6,0.8,1.1],[60,75,0.5,0.5,0.9],
[80.7,113.3,1.8,3,4.7],[76,86,1,1,1.8],[82,89,0.6,0.6,1.2],[100,125,2.4,2.2,3],[103,116,1.6,1.6,2.4],[112,127,1.6,1.2,2.2],[90,100,0.8,0.8,1.4],[118,127,0.6,0.6,1.4],
[81,91,3,3,3.6],[82,90,2.6,2.6,3.2],[103,113,3.2,3.2,4.2],[104,113,3,3,3.6],[113,127,1.2,1.2,1.8],
[128.5,134,0.6,0.6,1.7],[142,168,3,3.4,4.2],[137,150,2.2,2.2,3],[150,168,2.6,2.6,3.4],[144,158,2,2,2.6],[155,172,2.2,2.2,3],[165,182,1.8,1.8,2.6],[172,185,1.2,1.2,1.8],
[142,168,3.4,3.4,4.5],[143,167,3.8,3.8,4.1],[147,170,3,3,3.8],[149,170,3.4,3.4,4.4],
[187.7,194.5,2.4,2.4,4],[186,189,1,1,2.4],[190,200,1.4,1.4,2.4],[194,203,0.8,0.8,1.4],
[204.6,210,2.8,3,4.7],[203,207,1.6,1.6,2.8],[207,213,1.8,1.8,3],[208,211,1,1,1.8],[211,213.5,0.6,0.6,1.4],
[200,213,1.2,1.2,2],[203,213,2.4,2.4,3.6],
[0.5,6,0,0,0.6],[7,12,0,0,0.6],[13,18,0,0,0.6],[19,26,0,0,0.6],[27,33,0,0,0.6],[34,37.5,0,0,0.6],[38.5,45,0,0,0.6],[46,52,0,0,0.6],[53,60,0,0,0.6],[61,68,0,0,0.6],[69,75,0,0,0.6],[76,82,0,0,0.6],[83,89,0,0,0.6],[90,97,0,0,0.6],[98,105,0,0,0.6],[106,112,0,0,0.6],[113,120,0,0,0.6],[121,127.5,0,0,0.6],[128.5,135,0,0,0.6],[136,143,0,0,0.6],[144,151,0,0,0.6],[152,159,0,0,0.6],[160,167,0,0,0.6],[168,175,0,0,0.6],[176,184,0,0,0.6],[185,192,0,0,0.6],[193,199,0,0,0.6],[200,206,0,0,0.6],[207,213.5,0,0,0.6],
];

const heatRows = [...valuesPale, ...valuesBlueTop, ...valuesBlueLower, ...valuesRedLeft, ...valuesWarm];

function heatColor(v: number) {
  const t = Math.min(1, Math.abs(v) / 9.5);
  const c = Math.round(255 * (1 - t));
  return v >= 0 ? `rgb(255,${c},${c})` : `rgb(${c},${c},255)`;
}

const HEAT_LEFT = 210.7, HEAT_WIDTH = 350, HEAT_TOP = 143.3, HEAT_HEIGHT = 953.6;

function buildOption() {
  const heatData: number[][] = [];
  heatRows.forEach((row, r) => row.forEach((v, c) => heatData.push([c, r, v])));
  const annotationColumns = [atmosphereValues, temperatureValues, timeValues, subjectValues];
  const annCells: { value: number[]; color: string }[] = [];
  annotationColumns.forEach((vals, r) => vals.forEach((v, c) => annCells.push({ value: [c, r], color: annotationColors[v] })));

  const legendTitleY = [146.3, 219, 313.3, 407.7];
  const swatchTopY = [156.3, 229.7, 323.7, 417.7];
  const legendGraphics: any[] = [];
  legendGroups.forEach(([title, items], g) => {
    legendGraphics.push({ type: "text", x: 52.5, y: legendTitleY[g], style: { text: title, font: `bold 14.5px "${FONT}"`, fill: "#000", textVerticalAlign: "middle" } });
    items.forEach((name, i) => {
      const y = swatchTopY[g] + i * 20.67;
      legendGraphics.push({ type: "rect", shape: { x: 52.3, y, width: 20.7, height: 20.67 }, style: { fill: annotationColors[name] } });
      legendGraphics.push({ type: "text", x: 77.5, y: y + 10.8, style: { text: name, font: `14.5px "${FONT}"`, fill: "#222", textVerticalAlign: "middle" } });
    });
  });

  return {
    animation: false,
    backgroundColor: "#fff",
    textStyle: { fontFamily: FONT },
    graphic: legendGraphics,
    visualMap: { type: "continuous", show: false, seriesIndex: 0, dimension: 2, min: -9.5, max: 9.5, inRange: { color: ["#0000ff", "#ffffff", "#ff0000"] } },
    grid: [
      { left: HEAT_LEFT, top: HEAT_TOP, width: HEAT_WIDTH, height: HEAT_HEIGHT },
      { left: HEAT_LEFT, top: 60.7, width: HEAT_WIDTH, height: 77.3 },
      { left: HEAT_LEFT, top: 0, width: HEAT_WIDTH, height: 60.7 },
      { left: 150, top: HEAT_TOP, width: 60.7, height: HEAT_HEIGHT },
      { left: 1, top: 140.7, width: 24.7, height: 363.3 },
    ],
    xAxis: [
      { gridIndex: 0, type: "category", data: sampleLabels, axisLine: { show: false }, axisTick: { show: false }, splitLine: { show: false },
        axisLabel: { interval: 0, rotate: 45, fontSize: 14.2, color: "#111", fontFamily: FONT, margin: 11 } },
      { gridIndex: 1, type: "category", data: sampleLabels, show: false },
      { gridIndex: 2, type: "value", min: 0, max: 18, show: false },
      { gridIndex: 3, type: "value", min: 0, max: 60.7, inverse: true, show: false },
      { gridIndex: 4, type: "value", min: 0, max: 1, show: false },
    ],
    yAxis: [
      { gridIndex: 0, type: "category", inverse: true, position: "right", data: rowLabels, axisLine: { show: false }, axisTick: { show: false }, splitLine: { show: false },
        axisLabel: { interval: 0, fontSize: 4.8, color: "#555", fontFamily: FONT, margin: 7.5, hideOverlap: false } },
      { gridIndex: 1, type: "category", inverse: true, position: "right", data: annotationNames, axisLine: { show: false }, axisTick: { show: false }, splitLine: { show: false },
        axisLabel: { interval: 0, fontSize: 14.5, fontWeight: "bold", color: "#000", fontFamily: FONT, margin: 7.5 } },
      { gridIndex: 2, type: "value", min: 0, max: 60.7, show: false },
      { gridIndex: 3, type: "value", min: 0, max: 214, inverse: true, show: false },
      { gridIndex: 4, type: "value", min: -9.9, max: 9.5, position: "right", axisLine: { show: false }, axisTick: { show: false }, splitLine: { show: false },
        axisLabel: { customValues: colorKeyTicks, fontSize: 14, color: "#222", fontFamily: FONT, margin: 10, formatter: (v: number) => String(v).replace("-", "−") } },
    ],
    series: [
      { type: "heatmap", xAxisIndex: 0, yAxisIndex: 0, data: heatData, silent: true, progressive: 0, itemStyle: { borderWidth: 0 }, emphasis: { disabled: true } },
      { type: "custom", xAxisIndex: 1, yAxisIndex: 1, silent: true, clip: false, data: annCells.map((d) => d.value),
        renderItem: (params: any, api: any) => {
          const p = api.coord([api.value(0), api.value(1)]);
          const bw = api.size([1, 0])[0], bh = api.size([0, 1])[1] * 0.76;
          const isLast = api.value(0) === sampleLabels.length - 1;
          return { type: "rect", shape: { x: p[0] - bw / 2, y: p[1] - bh / 2, width: bw + (isLast ? 0 : 0.8), height: bh }, style: { fill: annCells[params.dataIndex].color } };
        } },
      { type: "custom", xAxisIndex: 2, yAxisIndex: 2, silent: true, clip: false, data: colTreeLinks,
        renderItem: (_: any, api: any) => {
          const [xl, xr, hl, hr, h] = [0, 1, 2, 3, 4].map((i) => api.value(i));
          const points = [[xl, hl], [xl, h], [xr, h], [xr, hr]].map((q) => api.coord(q));
          return { type: "polyline", shape: { points }, style: { stroke: "#000", lineWidth: 1.8, fill: "none" } };
        } },
      { type: "custom", xAxisIndex: 3, yAxisIndex: 3, silent: true, clip: false, data: rowTreeLinks,
        renderItem: (_: any, api: any) => {
          const [yt, yb, ht, hb, h] = [0, 1, 2, 3, 4].map((i) => api.value(i));
          const points = [[ht, yt], [h, yt], [h, yb], [hb, yb]].map((q) => api.coord(q));
          return { type: "polyline", shape: { points }, style: { stroke: "#000", lineWidth: 1.6, fill: "none" } };
        } },
      { type: "custom", xAxisIndex: 4, yAxisIndex: 4, silent: true, clip: true, data: colorKeySteps.map((v) => [0.5, v]),
        renderItem: (_: any, api: any) => {
          const v = api.value(1);
          const a = api.coord([0, v + 0.21]), b = api.coord([1, v - 0.21]);
          return { type: "rect", shape: { x: a[0], y: a[1], width: b[0] - a[0], height: b[1] - a[1] }, style: { fill: heatColor(v) } };
        } },
    ],
  };
}

export default function App() {
  const ref = useRef<HTMLDivElement>(null);
  useEffect(() => {
    const chart = echarts.init(ref.current!, undefined, { renderer: "svg" });
    chart.setOption(buildOption() as any);
    return () => chart.dispose();
  }, []);
  return <div ref={ref} style={{ position: "fixed", left: 0, top: 0, width: 685, height: 1185, background: "#fff" }} />;
}
